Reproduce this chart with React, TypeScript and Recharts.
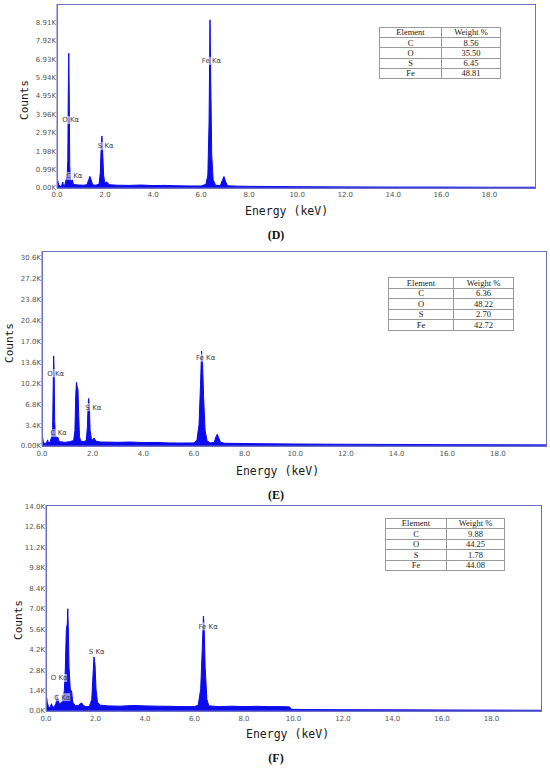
import { ComposedChart, Area, Scatter, XAxis, YAxis } from 'recharts'

// shared x axis (keV)
const energyTicks = [0, 2, 4, 6, 8, 10, 12, 14, 16, 18]
const elements = ['C', 'O', 'S', 'Fe']

// ---- panel D ----
const energyD = [
  0, 0.02, 0.05, 0.08, 0.15, 0.2, 0.24, 0.27, 0.33, 0.38, 0.42, 0.45, 0.47, 0.49, 0.51, 0.53, 0.56, 0.6,
  0.64, 0.68, 0.75, 0.9, 1.1, 1.25, 1.32, 1.37, 1.42, 1.48, 1.6, 1.75, 1.8, 1.84, 1.87, 1.9, 1.94, 1.99,
  2.05, 2.1, 2.16, 2.5, 3, 3.5, 4, 4.5, 5, 5.5, 6, 6.2, 6.28, 6.33, 6.37, 6.4, 6.44, 6.5, 6.6, 6.8, 6.88,
  6.95, 7.02, 7.1, 7.5, 8, 9, 10, 12, 14, 16, 18, 19.9,
]
const countsD = [
  0, 450, 300, 150, 100, 150, 320, 120, 180, 450, 600, 1500, 5200, 7250, 5000, 1200, 500, 350,
  450, 200, 180, 160, 150, 180, 450, 620, 450, 180, 150, 200, 800, 2200, 2800, 2000, 700, 250,
  320, 300, 180, 150, 140, 160, 130, 140, 120, 110, 110, 200, 700, 3500, 9050, 6000, 1800, 450, 150, 130, 400,
  620, 350, 120, 100, 90, 80, 70, 60, 50, 50, 40, 40,
]
const yTicksD = [0, 990, 1980, 2970, 3960, 4950, 5940, 6930, 7920, 8910]
const yLabelsD = ['0.00K', '0.99K', '1.98K', '2.97K', '3.96K', '4.95K', '5.94K', '6.93K', '7.92K', '8.91K']
const peaksD = [
  { name: 'O Kα', e: 0.57, c: 3660 },
  { name: 'C Kα', e: 0.72, c: 650 },
  { name: 'S Kα', e: 2.03, c: 2260 },
  { name: 'Fe Kα', e: 6.43, c: 6840 },
]
const weightD = ['8.56', '35.50', '6.45', '48.81']

// ---- panel E ----
const energyE = [
  0, 0.02, 0.05, 0.1, 0.18, 0.22, 0.26, 0.32, 0.38, 0.42, 0.44, 0.46, 0.48, 0.5, 0.53, 0.58, 0.62, 0.66,
  0.72, 0.9, 1.1, 1.25, 1.3, 1.33, 1.36, 1.39, 1.42, 1.45, 1.48, 1.53, 1.65, 1.75, 1.79, 1.82, 1.84, 1.87,
  1.9, 1.95, 2, 2.06, 2.12, 2.3, 3, 3.5, 4, 4.5, 5, 5.5, 6, 6.12, 6.2, 6.26, 6.3, 6.34, 6.38, 6.44, 6.52,
  6.65, 6.8, 6.87, 6.92, 6.97, 7.05, 7.2, 8, 9, 10, 12, 14, 16, 18, 19.9,
]
const countsE = [
  0, 1500, 700, 400, 500, 1000, 500, 600, 1500, 3000, 9000, 14600, 12000, 4000, 1800, 1300, 1500, 900,
  700, 600, 700, 900, 2500, 8000, 10300, 9600, 9200, 5000, 1500, 800, 700, 900, 3000, 6500, 7700, 6500,
  2500, 1200, 1000, 1300, 800, 650, 600, 650, 550, 580, 500, 480, 500, 1000, 3500, 10000, 15400, 13500, 8000, 2500, 800,
  500, 600, 1500, 1900, 1400, 600, 450, 400, 350, 320, 280, 250, 220, 200, 180,
]
const yTicksE = [0, 3400, 6800, 10200, 13600, 17000, 20400, 23800, 27200, 30600]
const yLabelsE = ['0.00K', '3.4K', '6.8K', '10.2K', '13.6K', '17.0K', '20.4K', '23.8K', '27.2K', '30.6K']
const peaksE = [
  { name: 'O Kα', e: 0.54, c: 11800 },
  { name: 'C Kα', e: 0.66, c: 2100 },
  { name: 'S Kα', e: 2.03, c: 6300 },
  { name: 'Fe Kα', e: 6.46, c: 14300 },
]
const weightE = ['6.36', '48.22', '2.70', '42.72']

// ---- panel F ----
const energyF = [
  0, 0.02, 0.05, 0.1, 0.16, 0.22, 0.26, 0.32, 0.4, 0.45, 0.5, 0.55, 0.62, 0.68, 0.74, 0.78, 0.82, 0.86,
  0.88, 0.9, 0.93, 0.98, 1.04, 1.08, 1.2, 1.32, 1.38, 1.44, 1.5, 1.6, 1.75, 1.85, 1.9, 1.94, 1.98, 2.02,
  2.08, 2.2, 2.5, 3, 3.5, 4, 4.5, 5, 5.5, 6, 6.15, 6.25, 6.32, 6.36, 6.39, 6.43, 6.5, 6.58, 7, 7.5, 8,
  8.5, 9, 9.5, 9.85, 9.9, 10.5, 12, 14, 16, 18, 20,
]
const countsF = [
  0, 1000, 600, 300, 200, 500, 300, 250, 500, 1000, 700, 450, 600, 700, 1400, 2800, 5500, 6000,
  7000, 5800, 3000, 1500, 1300, 600, 350, 400, 500, 550, 400, 300, 300, 800, 2500, 3700, 3200, 1500,
  600, 400, 350, 330, 380, 350, 330, 320, 300, 300, 400, 1500, 4500, 6500, 5800, 3000, 800, 350, 300, 330, 300,
  320, 300, 300, 280, 120, 100, 90, 80, 70, 60, 50,
]
const yTicksF = [0, 1400, 2800, 4200, 5600, 7000, 8400, 9800, 11200, 12600, 14000]
const yLabelsF = ['0.0K', '1.4K', '2.8K', '4.2K', '5.6K', '7.0K', '8.4K', '9.8K', '11.2K', '12.6K', '14.0K']
const peaksF = [
  { name: 'O Kα', e: 0.53, c: 2260 },
  { name: 'C Kα', e: 0.66, c: 950 },
  { name: 'S Kα', e: 2.05, c: 4040 },
  { name: 'Fe Kα', e: 6.55, c: 5800 },
]
const weightF = ['9.88', '44.25', '1.78', '44.08']

const FRAME = '#6e6ec6'
const BLUE = '#0b0bee'
const TICK_FONT = { fontSize: 7, fontFamily: 'DejaVu Sans', fill: '#555' }

function PeakTag(props: any) {
  const { cx, cy, payload } = props
  if (cx == null || cy == null) return null
  const w = payload.name.length * 4
  return (
    <g>
      <rect x={cx - w / 2} y={cy - 4} width={w} height={8} fill="#fff" fillOpacity={0.55} />
      <text
        x={cx}
        y={cy}
        dy="0.35em"
        textAnchor="middle"
        fontSize={7}
        fontFamily="DejaVu Sans"
        fill="#444"
      >
        {payload.name}
      </text>
    </g>
  )
}

function WeightTable({ weights, left, top, width, height, split }: any) {
  const rowH = height / 5
  const cell = {
    border: '1px solid #9a9a9a',
    padding: 0,
    height: rowH - 1,
    lineHeight: 1,
    fontSize: 8.5,
    textAlign: 'center' as const,
    color: '#222',
  }
  return (
    <table
      style={{
        position: 'absolute',
        left,
        top,
        width,
        borderCollapse: 'collapse',
        tableLayout: 'fixed',
        fontFamily: 'Liberation Serif',
      }}
    >
      <tbody>
        <tr>
          <td style={{ ...cell, width: split }}>Element</td>
          <td style={cell}>Weight %</td>
        </tr>
        {elements.map((el, i) => (
          <tr key={el}>
            <td style={cell}>{el}</td>
            <td style={cell}>{weights[i]}</td>
          </tr>
        ))}
      </tbody>
    </table>
  )
}

function Spectrum(p: any) {
  const data = p.energy.map((e: number, i: number) => ({ e, c: p.counts[i] }))
  const plotW = 550 - p.left - p.mRight
  const plotH = p.height - 12 - p.mTop
  return (
    <div style={{ position: 'absolute', left: 0, top: p.top, width: 550, height: p.height }}>
      <ComposedChart
        width={550}
        height={p.height}
        data={data}
        margin={{ top: p.mTop, right: p.mRight, bottom: 0, left: 0 }}
      >
        <XAxis
          dataKey="e"
          type="number"
          domain={[0, p.xMax]}
          ticks={energyTicks}
          interval={0}
          allowDataOverflow
          tickFormatter={(v: number) => v.toFixed(1)}
          tick={TICK_FONT}
          tickLine={false}
          tickSize={0}
          tickMargin={p.xTickMargin}
          height={12}
          axisLine={{ stroke: FRAME }}
        />
        <YAxis
          type="number"
          domain={[0, p.yMax]}
          ticks={p.yTicks}
          interval={0}
          allowDataOverflow
          tickFormatter={(v: number) => p.yLabels[p.yTicks.indexOf(v)]}
          tick={TICK_FONT}
          tickLine={false}
          tickSize={0}
          tickMargin={1}
          width={p.left}
          axisLine={{ stroke: FRAME }}
        />
        <Area
          type="linear"
          dataKey="c"
          stroke={BLUE}
          strokeWidth={1}
          fill={BLUE}
          fillOpacity={1}
          dot={false}
          activeDot={false}
          isAnimationActive={false}
        />
        <Scatter data={p.peaks} dataKey="c" shape={PeakTag} isAnimationActive={false} />
      </ComposedChart>
      {/* plot frame */}
      <div
        style={{
          position: 'absolute',
          left: p.left - 0.5,
          top: p.mTop - 0.5,
          width: plotW + 1,
          height: plotH + 1,
          border: `1px solid ${FRAME}`,
          boxSizing: 'border-box',
          pointerEvents: 'none',
        }}
      />
      <WeightTable weights={p.weights} {...p.table} top={p.table.top - p.top} />
    </div>
  )
}

const axisText = {
  position: 'absolute' as const,
  fontFamily: 'DejaVu Sans Mono',
  color: '#1a1a1a',
  whiteSpace: 'pre' as const,
  lineHeight: 1,
}

function Titles({ counts, energy, label }: any) {
  return (
    <>
      <div
        style={{
          ...axisText,
          fontSize: 11,
          left: counts[0],
          top: counts[1],
          transform: 'translate(-50%, -50%) rotate(-90deg)',
        }}
      >
        Counts
      </div>
      <div style={{ ...axisText, fontSize: 11.5, left: energy[0], top: energy[1], transform: 'translateY(-50%)' }}>
        Energy (keV)
      </div>
      <div
        style={{
          position: 'absolute',
          left: label[0],
          top: label[1],
          transform: 'translate(-50%, -50%)',
          fontFamily: 'Liberation Serif',
          fontWeight: 'bold',
          fontSize: 12,
          color: '#111',
        }}
      >
        {label[2]}
      </div>
    </>
  )
}

export default function App() {
  return (
    <div style={{ position: 'absolute', left: 0, top: 0, width: 550, height: 768, background: '#fff' }}>
      <Spectrum
        top={0}
        height={200}
        mTop={4}
        mRight={15}
        left={57}
        xMax={19.9}
        yMax={9900}
        xTickMargin={4}
        energy={energyD}
        counts={countsD}
        yTicks={yTicksD}
        yLabels={yLabelsD}
        peaks={peaksD}
        weights={weightD}
        table={{ left: 379, top: 27, width: 122, height: 51, split: 61 }}
      />
      <Titles counts={[24, 100]} energy={[245, 212]} label={[276, 235, '(D)']} />

      <Spectrum
        top={240}
        height={218}
        mTop={11}
        mRight={4}
        left={42}
        xMax={19.9}
        yMax={31600}
        xTickMargin={5}
        energy={energyE}
        counts={countsE}
        yTicks={yTicksE}
        yLabels={yLabelsE}
        peaks={peaksE}
        weights={weightE}
        table={{ left: 388, top: 277, width: 126, height: 53, split: 64 }}
      />
      <Titles counts={[9, 343]} energy={[236, 472]} label={[276, 495, '(E)']} />

      <Spectrum
        top={495}
        height={228}
        mTop={10}
        mRight={9}
        left={46}
        xMax={20}
        yMax={14100}
        xTickMargin={5}
        energy={energyF}
        counts={countsF}
        yTicks={yTicksF}
        yLabels={yLabelsF}
        peaks={peaksF}
        weights={weightF}
        table={{ left: 385, top: 518, width: 120, height: 52, split: 60 }}
      />
      <Titles counts={[18, 620]} energy={[246, 735]} label={[276, 758, '(F)']} />
    </div>
  )
}
